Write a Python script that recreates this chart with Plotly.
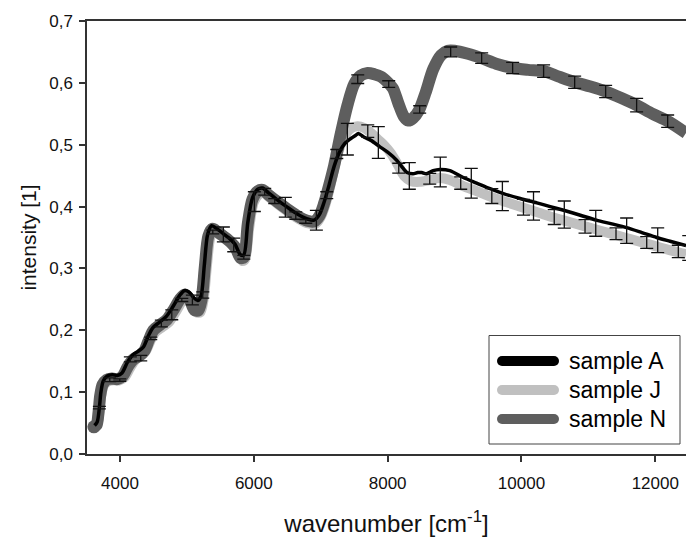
import plotly.graph_objects as go

# ---------------- data ----------------
N_x = [3610, 3650, 3680, 3705, 3740, 3800, 3880, 3960, 4040, 4120, 4200, 4280, 4360, 4430, 4500,
       4600, 4700, 4800, 4900, 4970, 5040, 5110, 5170, 5220, 5270, 5320, 5380, 5460, 5560, 5660,
       5730, 5800, 5850, 5910, 5980, 6060, 6130, 6220, 6350, 6500, 6650, 6800, 6900, 6980, 7050,
       7120, 7200, 7300, 7400, 7500, 7600, 7700, 7800, 7900, 8000, 8080, 8160, 8240, 8310, 8380,
       8470, 8570, 8680, 8800, 8900, 9000, 9200, 9400, 9620, 9870, 10100, 10330, 10560, 10800,
       11030, 11260, 11500, 11720, 11960, 12190, 12460]
N_y = [0.044, 0.047, 0.068, 0.095, 0.112, 0.120, 0.122, 0.121, 0.126, 0.142, 0.153, 0.158, 0.166, 0.184, 0.200,
       0.209, 0.217, 0.233, 0.251, 0.258, 0.250, 0.233, 0.232, 0.250, 0.305, 0.352, 0.364, 0.359, 0.351, 0.342,
       0.333, 0.317, 0.318, 0.372, 0.412, 0.425, 0.427, 0.419, 0.408, 0.396, 0.385, 0.377, 0.376, 0.385, 0.405,
       0.432, 0.466, 0.518, 0.564, 0.598, 0.612, 0.616, 0.614, 0.610, 0.601, 0.591, 0.567, 0.546, 0.539, 0.543,
       0.556, 0.585, 0.622, 0.645, 0.652, 0.652, 0.647, 0.640, 0.631, 0.624, 0.621, 0.619, 0.610, 0.601,
       0.594, 0.586, 0.575, 0.564, 0.550, 0.538, 0.519]

A_x = [3620, 3660, 3692, 3715, 3750, 3810, 3890, 3960, 4030, 4110, 4190, 4270, 4350, 4420, 4490,
       4590, 4690, 4790, 4890, 4960, 5030, 5100, 5160, 5210, 5260, 5310, 5370, 5450, 5545, 5650,
       5720, 5800, 5850, 5910, 5980, 6060, 6130, 6220, 6350, 6500, 6650, 6800, 6900, 6980, 7050,
       7120, 7200, 7280, 7360, 7450, 7520, 7562, 7650, 7750, 7880, 8000, 8135, 8230, 8290, 8380,
       8450, 8510, 8580, 8680, 8780, 8930, 9130, 9330, 9530, 9730, 9980, 10230, 10430, 10630,
       10880, 11120, 11350, 11570, 11800, 12020, 12220, 12460]
A_y = [0.046, 0.052, 0.075, 0.100, 0.118, 0.126, 0.128, 0.127, 0.131, 0.148, 0.160, 0.166, 0.173, 0.190, 0.204,
       0.213, 0.222, 0.238, 0.256, 0.264, 0.262, 0.253, 0.248, 0.255, 0.305, 0.355, 0.369, 0.364, 0.356, 0.347,
       0.339, 0.322, 0.322, 0.374, 0.414, 0.428, 0.430, 0.422, 0.411, 0.399, 0.388, 0.380, 0.378, 0.387, 0.407,
       0.433, 0.465, 0.488, 0.502, 0.510, 0.515, 0.518, 0.512, 0.507, 0.497, 0.488, 0.475, 0.462, 0.455, 0.453,
       0.455, 0.455, 0.453, 0.458, 0.460, 0.458, 0.447, 0.438, 0.429, 0.421, 0.413, 0.406, 0.400, 0.394,
       0.386, 0.378, 0.372, 0.366, 0.358, 0.350, 0.344, 0.337]

J_x = [3630, 3665, 3695, 3720, 3760, 3820, 3900, 3990, 4070, 4150, 4230, 4310, 4390, 4460, 4530,
       4630, 4730, 4830, 4930, 5000, 5070, 5140, 5200, 5250, 5300, 5350, 5400, 5480, 5580, 5680,
       5750, 5830, 5870, 5930, 6000, 6080, 6150, 6240, 6370, 6520, 6670, 6800, 6920, 7000, 7070,
       7140, 7220, 7300, 7380, 7460, 7550, 7650, 7750, 7850, 7950, 8050, 8150, 8250, 8350, 8480,
       8630, 8780, 8930, 9130, 9330, 9557, 9780, 10030, 10260, 10490, 10720, 10950, 11180, 11413,
       11640, 11872, 12100, 12344, 12460]
J_y = [0.042, 0.048, 0.070, 0.095, 0.111, 0.117, 0.119, 0.119, 0.124, 0.139, 0.152, 0.158, 0.167, 0.184, 0.197,
       0.205, 0.213, 0.229, 0.247, 0.252, 0.244, 0.229, 0.229, 0.250, 0.305, 0.350, 0.360, 0.355, 0.347, 0.337,
       0.328, 0.312, 0.315, 0.365, 0.407, 0.420, 0.422, 0.414, 0.403, 0.391, 0.380, 0.373, 0.372, 0.383, 0.403,
       0.432, 0.470, 0.500, 0.518, 0.527, 0.530, 0.527, 0.519, 0.509, 0.499, 0.486, 0.468, 0.449, 0.441, 0.440,
       0.443, 0.446, 0.443, 0.433, 0.425, 0.415, 0.407, 0.398, 0.390, 0.382, 0.375, 0.368, 0.361, 0.354,
       0.347, 0.340, 0.333, 0.326, 0.323]

# error bars (mean, half-width) per sample
N_err_x = [3847, 4310, 4774, 5237, 5700, 6163, 6627, 7090, 7553, 8016, 8479, 8942, 9405, 9868,
           10331, 10795, 11258, 11721, 12185]
N_err_y = [0.120, 0.155, 0.225, 0.257, 0.338, 0.424, 0.3855, 0.4185, 0.606, 0.598, 0.557, 0.650, 0.640,
           0.624, 0.619, 0.601, 0.586, 0.564, 0.538]
N_err = [0.003, 0.0045, 0.008, 0.005, 0.011, 0.0055, 0.006, 0.0055, 0.007, 0.0054, 0.006, 0.008, 0.0086,
         0.009, 0.010, 0.010, 0.010, 0.011, 0.010]

J_err_x = [3997, 4460, 4924, 5387, 5850, 6313, 6777, 7240, 7703, 8166, 8629, 9092, 9557, 10030,
           10490, 10950, 11413, 11872, 12344]
J_err_y = [0.1196, 0.187, 0.249, 0.359, 0.318, 0.409, 0.376, 0.485, 0.522, 0.462, 0.445, 0.438, 0.417,
           0.399, 0.383, 0.368, 0.356, 0.342, 0.3275]
J_err = [0.002, 0.002, 0.0025, 0.003, 0.003, 0.004, 0.003, 0.0073, 0.010, 0.008, 0.0087, 0.010, 0.012,
         0.0127, 0.012, 0.011, 0.0095, 0.0095, 0.010]

A_err_x = [3692, 4155, 4618, 5082, 5545, 6008, 6471, 6935, 7398, 7861, 8324, 8787, 9250, 9715,
           10180, 10640, 11110, 11572, 12036, 12500]
A_err_y = [0.075, 0.153, 0.211, 0.249, 0.355, 0.408, 0.399, 0.378, 0.509, 0.5035, 0.4495, 0.456, 0.4377,
           0.417, 0.401, 0.387, 0.373, 0.361, 0.3455, 0.333]
A_err = [0.002, 0.004, 0.0055, 0.008, 0.012, 0.016, 0.016, 0.016, 0.0256, 0.0256, 0.0215, 0.024, 0.024,
         0.0235, 0.023, 0.022, 0.021, 0.0205, 0.020, 0.020]

x_ticks = [4000, 6000, 8000, 10000, 12000]
x_ticktext = ["4000", "6000", "8000", "10000", "12000"]
y_ticks = [0.0, 0.1, 0.2, 0.3, 0.4, 0.5, 0.6, 0.7]
y_ticktext = ["0,0", "0,1", "0,2", "0,3", "0,4", "0,5", "0,6", "0,7"]

series_names = ["sample A", "sample J", "sample N"]
series_colors = ["#000000", "#c0c0c0", "#5e5e5e"]

# ---------------- figure ----------------
W, H = 686, 537
ML, MR, MT, MB = 87, 0, 21, 83
FONT = "Liberation Sans, Arial, Helvetica, sans-serif"

fig = go.Figure()

fig.add_trace(go.Scatter(x=J_x, y=J_y, mode="lines", line=dict(color=series_colors[1], width=10, shape="spline", smoothing=0.8),
                         showlegend=False, hoverinfo="skip"))
fig.add_trace(go.Scatter(x=N_x, y=N_y, mode="lines", line=dict(color=series_colors[2], width=12, shape="spline", smoothing=0.8),
                         showlegend=False, hoverinfo="skip"))
fig.add_trace(go.Scatter(x=N_x[:1], y=N_y[:1], mode="markers", marker=dict(color=series_colors[2], size=13),
                         showlegend=False, hoverinfo="skip"))
fig.add_trace(go.Scatter(x=A_x, y=A_y, mode="lines", line=dict(color=series_colors[0], width=3.5, shape="spline", smoothing=0.8),
                         showlegend=False, hoverinfo="skip"))

for ex, ey, ee in [(N_err_x, N_err_y, N_err), (J_err_x, J_err_y, J_err), (A_err_x, A_err_y, A_err)]:
    fig.add_trace(go.Scatter(x=ex, y=ey, mode="markers", marker=dict(size=1, color="rgba(0,0,0,0)"),
                             error_y=dict(type="data", array=ee, visible=True, color="#111111", thickness=1.3, width=6.5),
                             showlegend=False, hoverinfo="skip"))

# ---------------- custom legend ----------------
pw = W - ML - MR
ph = H - MT - MB
def fx(px):
    return (px - ML) / pw
def fy(py):
    return (H - MB - py) / ph

shapes = [dict(type="rect", xref="paper", yref="paper", x0=fx(489), x1=fx(680), y0=fy(444), y1=fy(335.5),
               line=dict(color="#444444", width=1), fillcolor="white", layer="above")]
annotations = []
rows = [361, 390, 419]
for name, col, ry in zip(series_names, series_colors, rows):
    shapes.append(dict(type="line", xref="paper", yref="paper", x0=fx(502), x1=fx(554), y0=fy(ry), y1=fy(ry),
                       line=dict(color=col, width=10), layer="above"))
    for cx in (502, 554):
        shapes.append(dict(type="circle", xref="paper", yref="paper", x0=fx(cx - 5), x1=fx(cx + 5),
                           y0=fy(ry + 5), y1=fy(ry - 5), fillcolor=col, line=dict(width=0), layer="above"))
    annotations.append(dict(xref="paper", yref="paper", x=fx(567), y=fy(ry), text=name, showarrow=False,
                            xanchor="left", yanchor="middle", font=dict(family=FONT, size=23, color="#000000")))

fig.update_layout(
    width=W, height=H, autosize=False,
    margin=dict(l=ML, r=MR, t=MT, b=MB, pad=0, autoexpand=False),
    plot_bgcolor="white", paper_bgcolor="white",
    font=dict(family=FONT, color="#111111"),
    shapes=shapes, annotations=annotations,
    showlegend=False,
)
fig.update_xaxes(range=[3507, 12459], automargin=False, showline=True, linecolor="#333333", linewidth=1.5, mirror=True,
                 ticks="outside", ticklen=6, tickwidth=1.5, tickcolor="#333333", ticklabelstandoff=7,
                 tickvals=x_ticks, ticktext=x_ticktext, tickfont=dict(family=FONT, size=17, color="#111111"),
                 showgrid=False, zeroline=False,
                 title=dict(text="wavenumber [cm<sup>-1</sup>]", font=dict(family=FONT, size=24, color="#111111"), standoff=24))
fig.update_yaxes(range=[0, 0.7], automargin=False, showline=True, linecolor="#333333", linewidth=1.5, mirror=False,
                 ticks="outside", ticklen=6, tickwidth=1.5, tickcolor="#333333", ticklabelstandoff=3,
                 tickvals=y_ticks, ticktext=y_ticktext, tickfont=dict(family=FONT, size=17, color="#111111"),
                 showgrid=False, zeroline=False,
                 title=dict(text="intensity [1]", font=dict(family=FONT, size=21, color="#111111"), standoff=7))

fig.write_html("out.html", config={"displayModeBar": False},
               post_script="document.body.style.margin='0';document.body.style.overflow='hidden';")
